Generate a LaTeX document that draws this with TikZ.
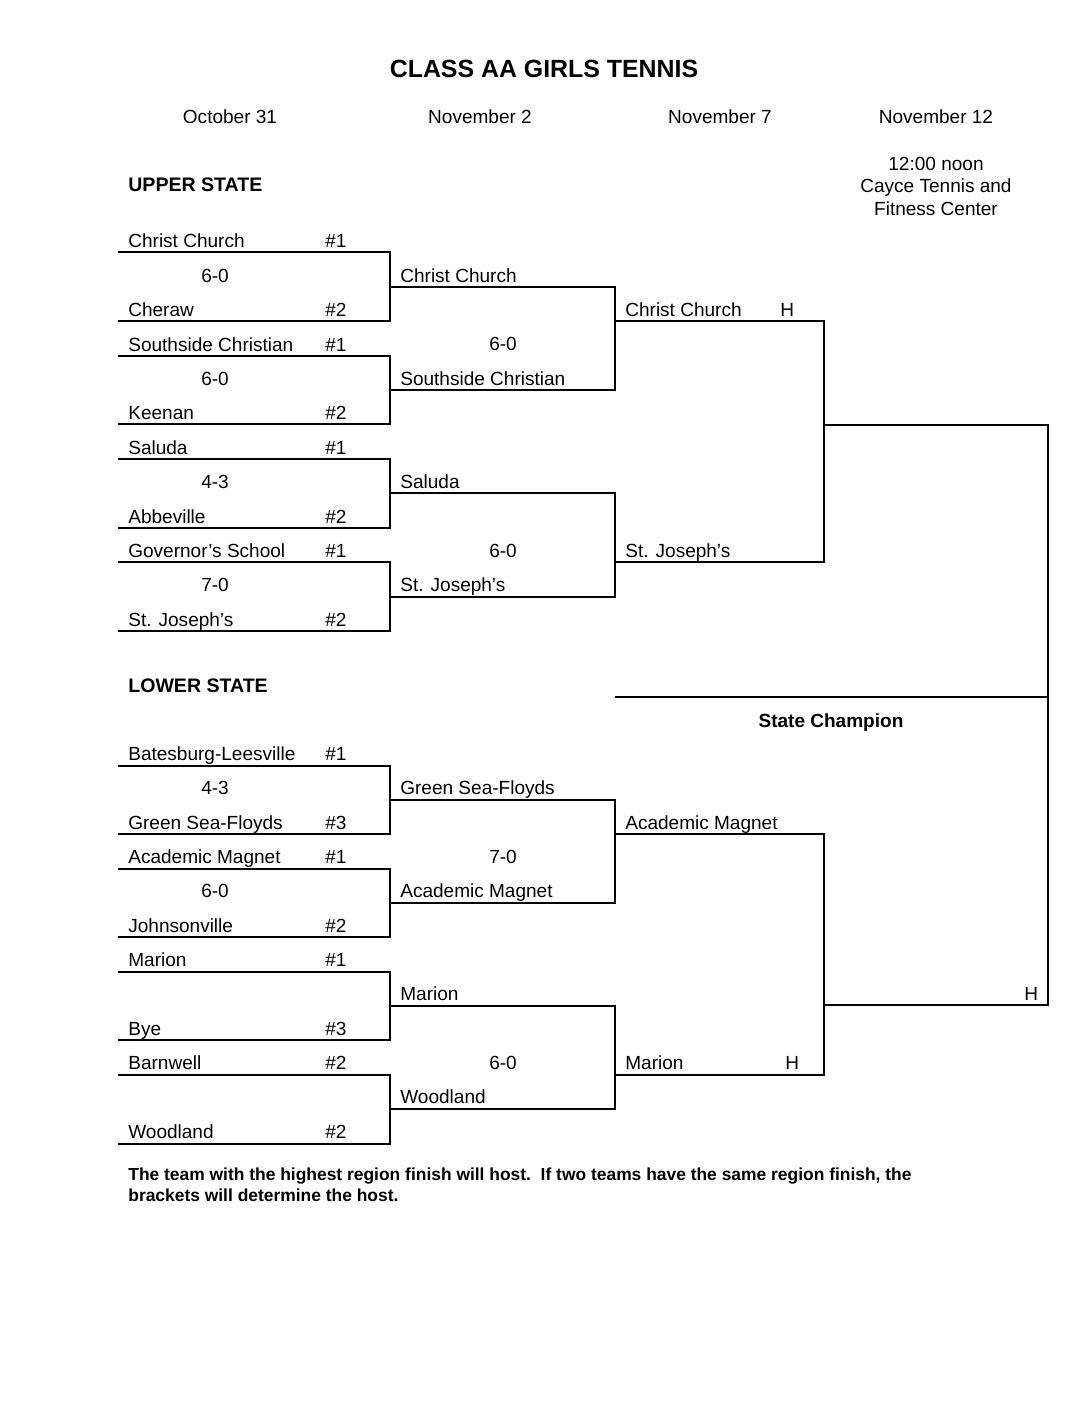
\documentclass[tikz,border=0pt]{standalone}
\usepackage{fontspec}
\setmainfont{Liberation Sans}

\begin{document}
\begin{tikzpicture}[
                x=0.5625pt,y=-0.5625pt,
                txt/.style={anchor=base west,inner sep=0pt,font=\fontsize{10.7}{12}\selectfont},
                score/.style={anchor=base,inner sep=0pt,font=\fontsize{10.7}{12}\selectfont},
                seed/.style={anchor=base west,inner sep=0pt,font=\fontsize{10.7}{12}\selectfont},
                head/.style={anchor=base,inner sep=0pt,font=\fontsize{10.7}{12}\selectfont},
                bold/.style={anchor=base west,inner sep=0pt,font=\fontsize{11}{12}\selectfont\bfseries},
                roundone/.style={line width=1.3pt},
                roundtwo/.style={line width=0.75pt}]

\useasboundingbox (0,0) rectangle (1088,1408);

% title and dates
\node[anchor=base,inner sep=0pt,font=\fontsize{14}{16}\selectfont\bfseries] (TITLE) at (544,78) {CLASS AA GIRLS TENNIS};
\node[head] (D1) at (230,124) {October 31};
\node[head] (D2) at (480,124) {November 2};
\node[head] (D3) at (720,124) {November 7};
\node[head] (D4) at (936,124) {November 12};
\node[align=center,inner sep=0pt,font=\fontsize{10.7}{12.66}\selectfont] (SITE) at (936,186) {12:00 noon\\Cayce Tennis and\\Fitness Center};

%%%%%%%%%%%%%%%%%%%%%%%%%%%%%%%%%%%%%%%%%%%%%%%%%%%%%%%%%%%%%%%%%%%%%%%%%%%%%%%%%%%%
% upper state

\node[bold] (UPPER) at (128,191) {UPPER STATE};

                    % 1
                    \node[txt] (CC1) at (128,247) {Christ Church};   \node[seed] (CC1S) at (325,247) {\#1};
                    \node[score] (S1) at (215,282) {6-0};
                    \node[txt] (CHE) at (128,316) {Cheraw};          \node[seed] (CHES) at (325,316) {\#2};
                    \draw[roundone] (118,252) -- (390,252) -- (390,321) -- (118,321);

                    % 2
                    \node[txt] (SC1) at (128,351) {Southside Christian}; \node[seed] (SC1S) at (325,351) {\#1};
                    \node[score] (S2) at (215,385) {6-0};
                    \node[txt] (KEE) at (128,419) {Keenan};          \node[seed] (KEES) at (325,419) {\#2};
                    \draw[roundone] (118,356) -- (390,356) -- (390,424) -- (118,424);

                    % 3
                    \node[txt] (SAL1) at (128,454) {Saluda};         \node[seed] (SAL1S) at (325,454) {\#1};
                    \node[score] (S3) at (215,488) {4-3};
                    \node[txt] (ABB) at (128,523) {Abbeville};       \node[seed] (ABBS) at (325,523) {\#2};
                    \draw[roundone] (118,459) -- (390,459) -- (390,528) -- (118,528);

                    % 4
                    \node[txt] (GOV) at (128,557) {Governor's School}; \node[seed] (GOVS) at (325,557) {\#1};
                    \node[score] (S4) at (215,591) {7-0};
                    \node[txt] (SJ1) at (128,626) {St. Joseph's};    \node[seed] (SJ1S) at (325,626) {\#2};
                    \draw[roundone] (118,562) -- (390,562) -- (390,631) -- (118,631);

                    % november 2
                    \node[txt] (CC2) at (400,282) {Christ Church};
                    \node[score] (S5) at (503,350) {6-0};
                    \node[txt] (SC2) at (400,385) {Southside Christian};
                    \draw[roundtwo] (390,287) -- (615,287) -- (615,390) -- (390,390);

                    \node[txt] (SAL2) at (400,488) {Saluda};
                    \node[score] (S6) at (503,557) {6-0};
                    \node[txt] (SJ2) at (400,591) {St. Joseph's};
                    \draw[roundtwo] (390,493) -- (615,493) -- (615,597) -- (390,597);

                    % november 7
                    \node[txt] (CC3) at (625,316) {Christ Church};   \node[seed] (CC3H) at (780,316) {H};
                    \node[txt] (SJ3) at (625,557) {St. Joseph's};
                    \draw[roundtwo] (615,321) -- (824,321) -- (824,562) -- (615,562);

%%%%%%%%%%%%%%%%%%%%%%%%%%%%%%%%%%%%%%%%%%%%%%%%%%%%%%%%%%%%%%%%%%%%%%%%%%%%%%%%%%%%
% lower state

\node[bold] (LOWER) at (128,692) {LOWER STATE};

                    % 1
                    \node[txt] (BL) at (128,760) {Batesburg-Leesville}; \node[seed] (BLS) at (325,760) {\#1};
                    \node[score] (S7) at (215,794) {4-3};
                    \node[txt] (GSF1) at (128,829) {Green Sea-Floyds}; \node[seed] (GSF1S) at (325,829) {\#3};
                    \draw[roundone] (118,766) -- (390,766) -- (390,834) -- (118,834);

                    % 2
                    \node[txt] (AM1) at (128,863) {Academic Magnet}; \node[seed] (AM1S) at (325,863) {\#1};
                    \node[score] (S8) at (215,897) {6-0};
                    \node[txt] (JOH) at (128,932) {Johnsonville};    \node[seed] (JOHS) at (325,932) {\#2};
                    \draw[roundone] (118,869) -- (390,869) -- (390,937) -- (118,937);

                    % 3
                    \node[txt] (MAR1) at (128,966) {Marion};         \node[seed] (MAR1S) at (325,966) {\#1};
                    \node[txt] (BYE) at (128,1035) {Bye};            \node[seed] (BYES) at (325,1035) {\#3};
                    \draw[roundone] (118,972) -- (390,972) -- (390,1040) -- (118,1040);

                    % 4
                    \node[txt] (BAR) at (128,1069) {Barnwell};       \node[seed] (BARS) at (325,1069) {\#2};
                    \node[txt] (WOO1) at (128,1138) {Woodland};      \node[seed] (WOO1S) at (325,1138) {\#2};
                    \draw[roundone] (118,1075) -- (390,1075) -- (390,1144) -- (118,1144);

                    % november 2
                    \node[txt] (GSF2) at (400,794) {Green Sea-Floyds};
                    \node[score] (S9) at (503,863) {7-0};
                    \node[txt] (AM2) at (400,897) {Academic Magnet};
                    \draw[roundtwo] (390,800) -- (615,800) -- (615,903) -- (390,903);

                    \node[txt] (MAR2) at (400,1000) {Marion};
                    \node[score] (S10) at (503,1069) {6-0};
                    \node[txt] (WOO2) at (400,1103) {Woodland};
                    \draw[roundtwo] (390,1006) -- (615,1006) -- (615,1109) -- (390,1109);

                    % november 7
                    \node[txt] (AM3) at (625,829) {Academic Magnet};
                    \node[txt] (MAR3) at (625,1069) {Marion};        \node[seed] (MAR3H) at (785,1069) {H};
                    \draw[roundtwo] (615,834) -- (824,834) -- (824,1075) -- (615,1075);

%%%%%%%%%%%%%%%%%%%%%%%%%%%%%%%%%%%%%%%%%%%%%%%%%%%%%%%%%%%%%%%%%%%%%%%%%%%%%%%%%%%%
% final

\draw[roundtwo] (824,425) -- (1048,425) -- (1048,1005) -- (824,1005);
\draw[roundtwo] (615,697) -- (1048,697);
\node[seed] (FINH) at (1024,1000) {H};
\node[anchor=base,inner sep=0pt,font=\fontsize{10.7}{12}\selectfont\bfseries] (CHAMP) at (831,727) {State Champion};

% note
\node[anchor=north west,align=left,inner sep=0pt,font=\fontsize{9.8}{11.4}\selectfont\bfseries] (NOTE) at (128,1168) {The team with the highest region finish will host.\ \ If two teams have the same region finish, the\\brackets will determine the host.};

\end{tikzpicture}
\end{document}
